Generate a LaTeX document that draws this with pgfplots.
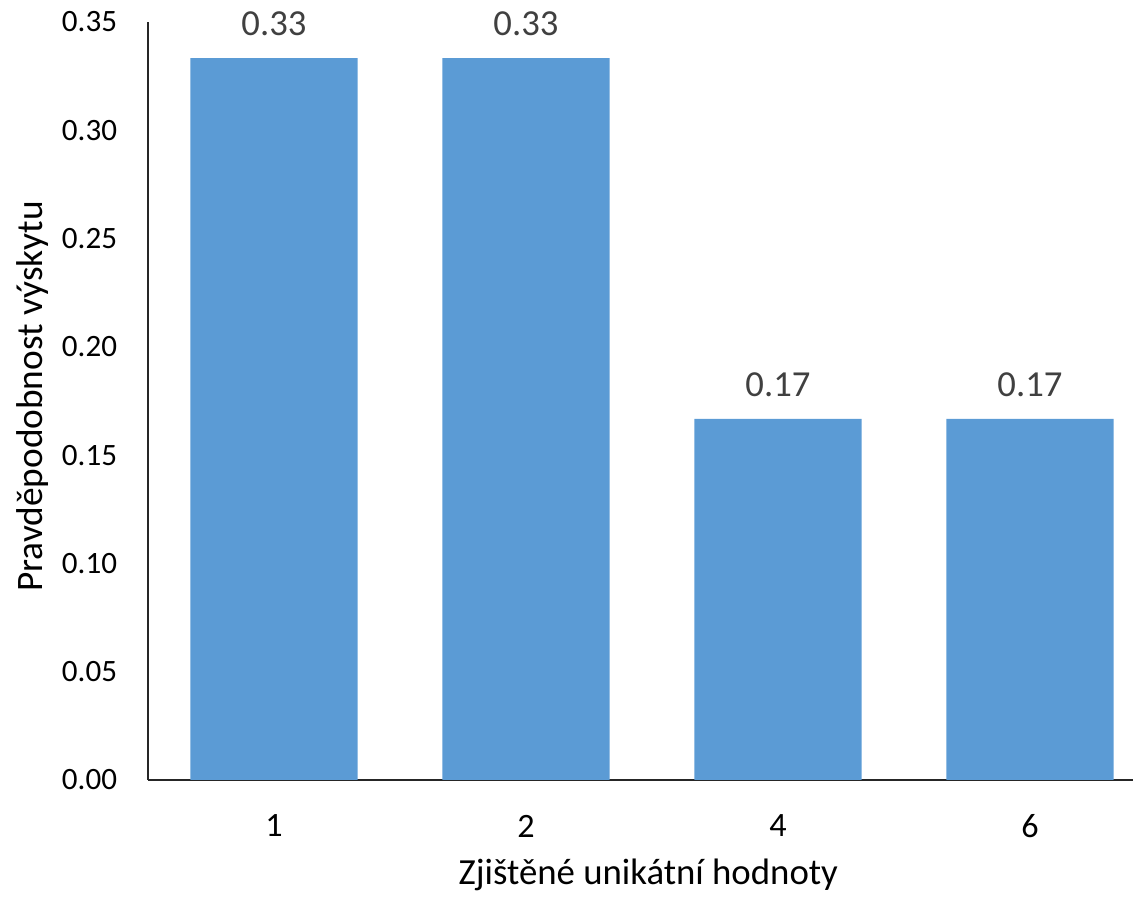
\documentclass[border=0pt]{standalone}
\usepackage{fontspec}
\setmainfont{Carlito}
\usepackage{pgfplots}
\pgfplotsset{compat=1.18}
\definecolor{barblue}{HTML}{5B9BD5}
\definecolor{lblgray}{HTML}{404040}
\begin{document}
\begin{tikzpicture}
\begin{axis}[name=ax, at={(0,0)}, anchor=south west,
  scale only axis, width=738.75pt, height=568.5pt,
  xmin=-0.5, xmax=3.409, ymin=0, ymax=0.35,
  axis x line*=bottom, axis y line*=left,
  axis line style={-, line width=1.1pt, black!85},
  major tick length=0pt,
  xtick={0,1,2,3}, xticklabels={1,2,4,6},
  ytick={0,0.05,0.10,0.15,0.20,0.25,0.30,0.35},
  /pgf/number format/assume math mode=true,
  yticklabel={\pgfmathprintnumber[fixed,fixed zerofill,precision=2]{\tick}},
  yticklabel style={inner sep=0pt, anchor=east, xshift=-23pt, font=\fontsize{23.3pt}{28pt}\selectfont},
  xticklabel style={inner sep=0pt, anchor=north, yshift=-26pt, font=\fontsize{25.6pt}{30pt}\selectfont},
  xlabel={Zjištěné unikátní hodnoty},
  xlabel style={at={(axis description cs:0.508,-0.1385)}, anchor=base, inner sep=0pt, font=\fontsize{27.6pt}{32pt}\selectfont},
  ylabel={Pravděpodobnost výskytu},
  ylabel style={at={(axis description cs:-0.1168,0.506)}, anchor=center, rotate=0, inner sep=0pt, font=\fontsize{28pt}{32pt}\selectfont},
  ybar, bar width=0.664, bar shift=0pt,
  nodes near coords={\pgfmathprintnumber[fixed,fixed zerofill,precision=2]{\pgfplotspointmeta}},
  every node near coord/.append style={inner sep=0pt, anchor=south, yshift=16.5pt, color=lblgray, font=\fontsize{27.5pt}{32pt}\selectfont},
  clip=false,
]
\addplot[fill=barblue, draw=none] coordinates {(0,0.3333) (1,0.3333) (2,0.1667) (3,0.1667)};
\end{axis}
\pgfresetboundingbox
\path ([shift={(-111pt,-92.25pt)}]ax.south west) rectangle ++(849.75pt,677.25pt);
\end{tikzpicture}
\end{document}
